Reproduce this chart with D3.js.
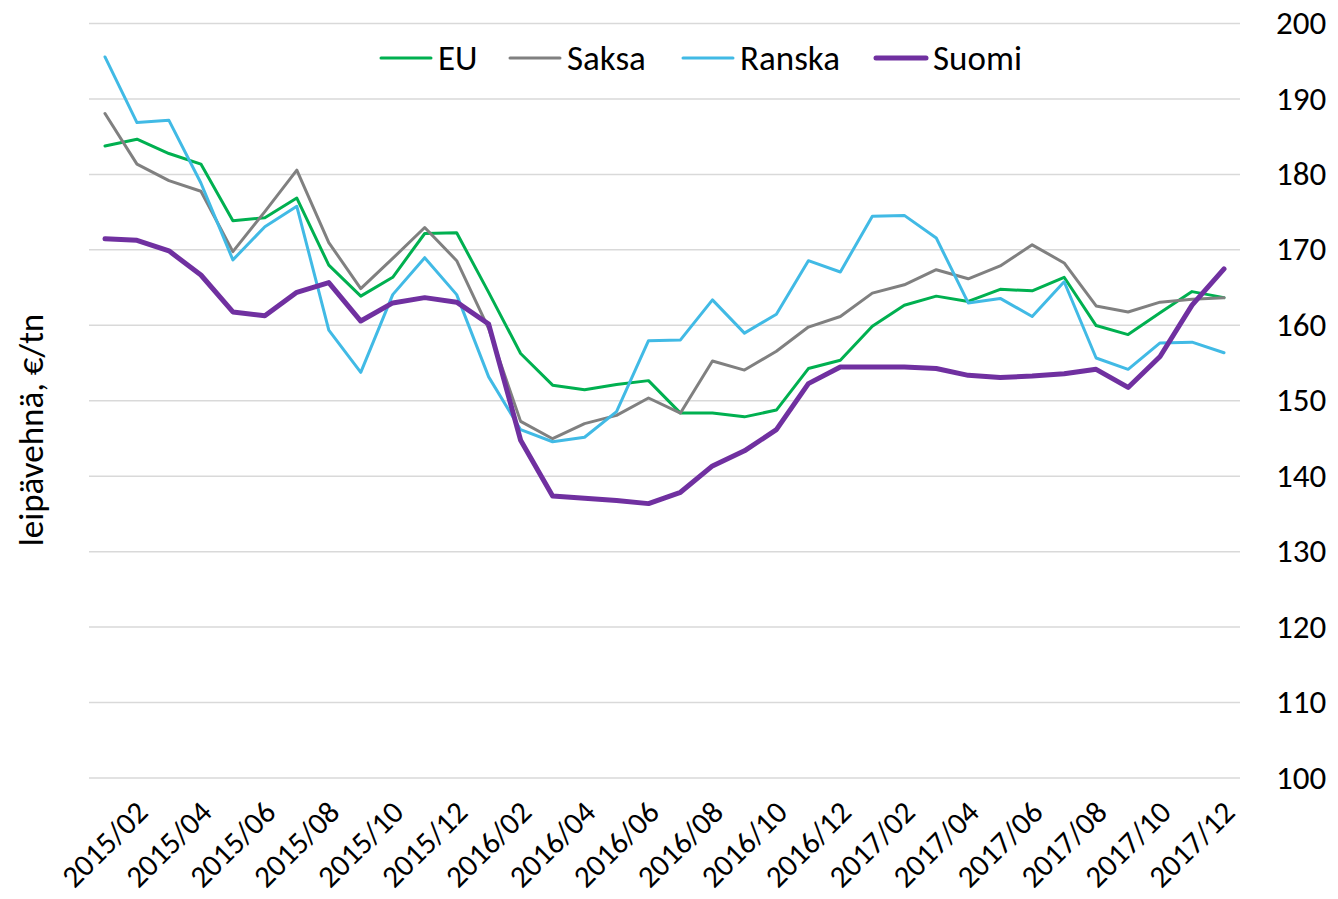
<!DOCTYPE html>
<html>
<head>
<meta charset="utf-8">
<script src="https://cdn.jsdelivr.net/npm/d3@7"></script>
<style>
  html, body { margin: 0; padding: 0; background: #fff; }
  svg { display: block; font-family: Carlito, Calibri, Lato, "Open Sans", sans-serif; }
</style>
</head>
<body>
<svg id="chart" width="1338" height="899"></svg>
<script>
const months = [
  "2015/01","2015/02","2015/03","2015/04","2015/05","2015/06","2015/07","2015/08","2015/09","2015/10","2015/11","2015/12",
  "2016/01","2016/02","2016/03","2016/04","2016/05","2016/06","2016/07","2016/08","2016/09","2016/10","2016/11","2016/12",
  "2017/01","2017/02","2017/03","2017/04","2017/05","2017/06","2017/07","2017/08","2017/09","2017/10","2017/11","2017/12"
];
const xTickLabels = months.filter((m, i) => i % 2 === 1);
const yTicks = [100, 110, 120, 130, 140, 150, 160, 170, 180, 190, 200];

const seriesNames = ["EU", "Saksa", "Ranska", "Suomi"];
const EU = [183.7,184.6,182.7,181.3,173.8,174.2,176.8,167.9,163.8,166.3,172.1,172.2,
            164.3,156.2,152.0,151.4,152.1,152.6,148.3,148.3,147.8,148.7,154.2,155.3,
            159.8,162.6,163.8,163.1,164.7,164.5,166.3,159.9,158.7,161.6,164.4,163.6];
const Saksa = [188.0,181.3,179.1,177.7,169.7,175.0,180.5,170.9,164.8,168.8,172.9,168.5,
               159.5,147.2,144.9,146.9,148.0,150.3,148.3,155.2,154.0,156.5,159.7,161.1,
               164.2,165.3,167.3,166.1,167.8,170.6,168.2,162.5,161.7,163.0,163.4,163.6];
const Ranska = [195.5,186.8,187.1,178.8,168.6,173.0,175.7,159.3,153.7,164.0,168.9,164.0,
                153.1,146.1,144.5,145.1,148.5,157.9,158.0,163.3,158.9,161.4,168.5,167.0,
                174.4,174.5,171.5,162.9,163.5,161.1,165.7,155.6,154.1,157.6,157.7,156.3];
const Suomi = [171.4,171.2,169.8,166.6,161.7,161.2,164.3,165.6,160.5,162.9,163.6,163.0,
               160.1,144.7,137.3,137.0,136.7,136.3,137.8,141.3,143.3,146.1,152.2,154.4,
               154.4,154.4,154.2,153.3,153.0,153.2,153.5,154.1,151.7,155.8,162.6,167.4];
const yTitle = "leipävehnä, €/tn";

const seriesValues = [EU, Saksa, Ranska, Suomi];
const colors = ["#00B050", "#808080", "#41BAE5", "#7030A0"];
const widths = [3, 3, 3, 5];

const svg = d3.select("#chart");
const plotLeft = 89, plotRight = 1240, plotTop = 23, plotBottom = 777.5;

const x = d3.scaleBand().domain(months).range([plotLeft, plotRight]).padding(0);
const y = d3.scaleLinear().domain([100, 200]).range([plotBottom, plotTop]);
const cx = m => x(m) + x.bandwidth() / 2;

// gridlines + right labels
const yAxis = d3.axisRight(y).tickValues(yTicks).tickSize(plotRight - plotLeft).tickPadding(36).tickFormat(d3.format("d"));
const gy = svg.append("g").attr("transform", `translate(${plotLeft},0)`).call(yAxis);
gy.select(".domain").remove();
gy.selectAll(".tick line").attr("stroke", "#D9D9D9").attr("stroke-width", 1.5);
gy.selectAll(".tick text").attr("fill", "#000").style("font-size", "33px");

// x axis labels
const xAxis = d3.axisBottom(x).tickValues(xTickLabels).tickSize(0).tickPadding(0);
const gx = svg.append("g").attr("transform", `translate(0,${plotBottom})`).call(xAxis);
gx.select(".domain").remove();
gx.selectAll(".tick text")
  .attr("fill", "#000")
  .style("font-size", "31px")
  .attr("text-anchor", "end")
  .attr("x", 0).attr("y", 0).attr("dy", "0.35em")
  .attr("transform", "translate(5,29) rotate(-45)");
svg.selectAll("g").attr("font-family", null).attr("font-size", null);

// lines
const line = d3.line().x((d, i) => cx(months[i])).y(d => y(d));
seriesValues.forEach((vals, k) => {
  svg.append("path")
    .datum(vals)
    .attr("fill", "none")
    .attr("stroke", colors[k])
    .attr("stroke-width", widths[k])
    .attr("stroke-linejoin", "round")
    .attr("stroke-linecap", "round")
    .attr("d", line);
});

// y title
svg.append("text")
  .attr("transform", "translate(43,430) rotate(-90)")
  .attr("text-anchor", "middle")
  .attr("fill", "#000")
  .style("font-size", "35px")
  .text(yTitle);

// legend
const legendX = [381, 510, 683, 876];
const legendY = 58;
const lg = svg.append("g");
seriesNames.forEach((name, k) => {
  const g = lg.append("g").attr("transform", `translate(${legendX[k]},${legendY})`);
  g.append("line").attr("x1", 0).attr("x2", 50).attr("y1", 0).attr("y2", 0)
    .attr("stroke", colors[k]).attr("stroke-width", widths[k]).attr("stroke-linecap", "round");
  g.append("text").attr("x", 57).attr("y", 0).attr("dy", "0.35em")
    .attr("fill", "#000").style("font-size", "35px").text(name);
});
</script>
</body>
</html>
